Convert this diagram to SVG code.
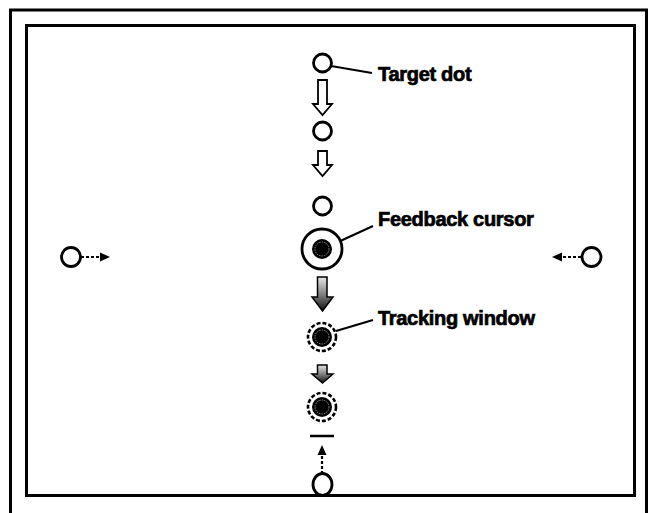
<svg xmlns="http://www.w3.org/2000/svg" width="653" height="513" viewBox="0 0 653 513">
<style>
.frame{fill:none;stroke:#000;stroke-width:3}
.dot{fill:#fff;stroke:#000;stroke-width:2.8}
.hollow{fill:#fff;stroke:#000;stroke-width:1.8;stroke-linejoin:miter}
.grad{fill:url(#g1);stroke:#000;stroke-width:1.5}
.dash{fill:none;stroke:#000;stroke-width:2.2;stroke-dasharray:3 2}
.head{fill:#000}
.lead{fill:none;stroke:#000;stroke-width:2}
.lbl{font-family:"Liberation Sans",Arial,sans-serif;font-weight:bold;font-size:20px;fill:#000;stroke:#000;stroke-width:0.7;letter-spacing:-0.3px}
.win{fill:#fff;stroke:#000;stroke-width:2.6;stroke-dasharray:4 2}
.disc{fill:#000}
.ring{fill:none;stroke:#aaa;stroke-width:0.8;stroke-dasharray:1.5 1}
</style>
<defs>
<linearGradient id="g1" x1="0" y1="0" x2="0" y2="1">
<stop offset="0" stop-color="#e8e8e8"/>
<stop offset="0.55" stop-color="#777"/>
<stop offset="1" stop-color="#111"/>
</linearGradient>
</defs>
<rect width="653" height="513" fill="#fff"/>
<g id="frames">
<path class="frame" d="M10.5,530 V10 H646.5 V530"/>
<rect class="frame" x="26.5" y="25.5" width="608" height="470"/>
</g>
<g id="connectors">
<path class="hollow" d="M318,80 H327 V104 H332 L322.5,115 L313,104 H318 Z"/>
<path class="hollow" d="M318,151 H327 V165 H332 L322.5,176 L313,165 H318 Z"/>
<path class="grad" d="M317.5,277 H327 V297 H333 L322.5,311 L312,297 H317.5 Z"/>
<path class="grad" d="M317.5,365 H327 V374 H333 L322.5,383 L312,374 H317.5 Z"/>
<line class="dash" x1="322" y1="474" x2="322" y2="454"/>
<path class="head" d="M322,445 L326.5,455 L317.5,455 Z"/>
<line class="dash" x1="81" y1="257" x2="101" y2="257"/>
<path class="head" d="M110,257 L100,252.5 L100,261.5 Z"/>
<line class="dash" x1="581" y1="257" x2="561" y2="257"/>
<path class="head" d="M552,257 L562,252.5 L562,261.5 Z"/>
<line class="lead" x1="331" y1="66" x2="372" y2="73"/>
<line class="lead" x1="325" y1="248" x2="373" y2="226"/>
<line class="lead" x1="336" y1="331" x2="373" y2="320"/>
<line x1="310" y1="436" x2="334" y2="436" stroke="#000" stroke-width="2.5"/>
</g>
<g id="target-dot">
<circle class="dot" cx="322.5" cy="63" r="9"/>
<text class="lbl" x="378" y="81">Target dot</text>
</g>
<g id="dot-2"><circle class="dot" cx="322.5" cy="131" r="9"/></g>
<g id="dot-3"><circle class="dot" cx="322.5" cy="206" r="9"/></g>
<g id="feedback-cursor">
<circle class="dot" cx="322" cy="249" r="20"/>
<circle class="disc" cx="322" cy="249" r="10"/>
<circle class="ring" cx="322" cy="249" r="7"/>
<text class="lbl" x="378" y="226">Feedback cursor</text>
</g>
<g id="tracking-window-1">
<circle class="win" cx="322" cy="337" r="14"/>
<circle class="disc" cx="322" cy="337" r="10"/>
<circle class="ring" cx="322" cy="337" r="7"/>
<text class="lbl" x="378" y="325">Tracking window</text>
</g>
<g id="tracking-window-2">
<circle class="win" cx="322" cy="407" r="14"/>
<circle class="disc" cx="322" cy="407" r="10"/>
<circle class="ring" cx="322" cy="407" r="7"/>
</g>
<g id="bottom-dot"><ellipse class="dot" cx="322.5" cy="484.5" rx="9.5" ry="11"/></g>
<g id="left-dot"><circle class="dot" cx="71" cy="257" r="9.5"/></g>
<g id="right-dot"><circle class="dot" cx="591.5" cy="257" r="9.5"/></g>
</svg>
